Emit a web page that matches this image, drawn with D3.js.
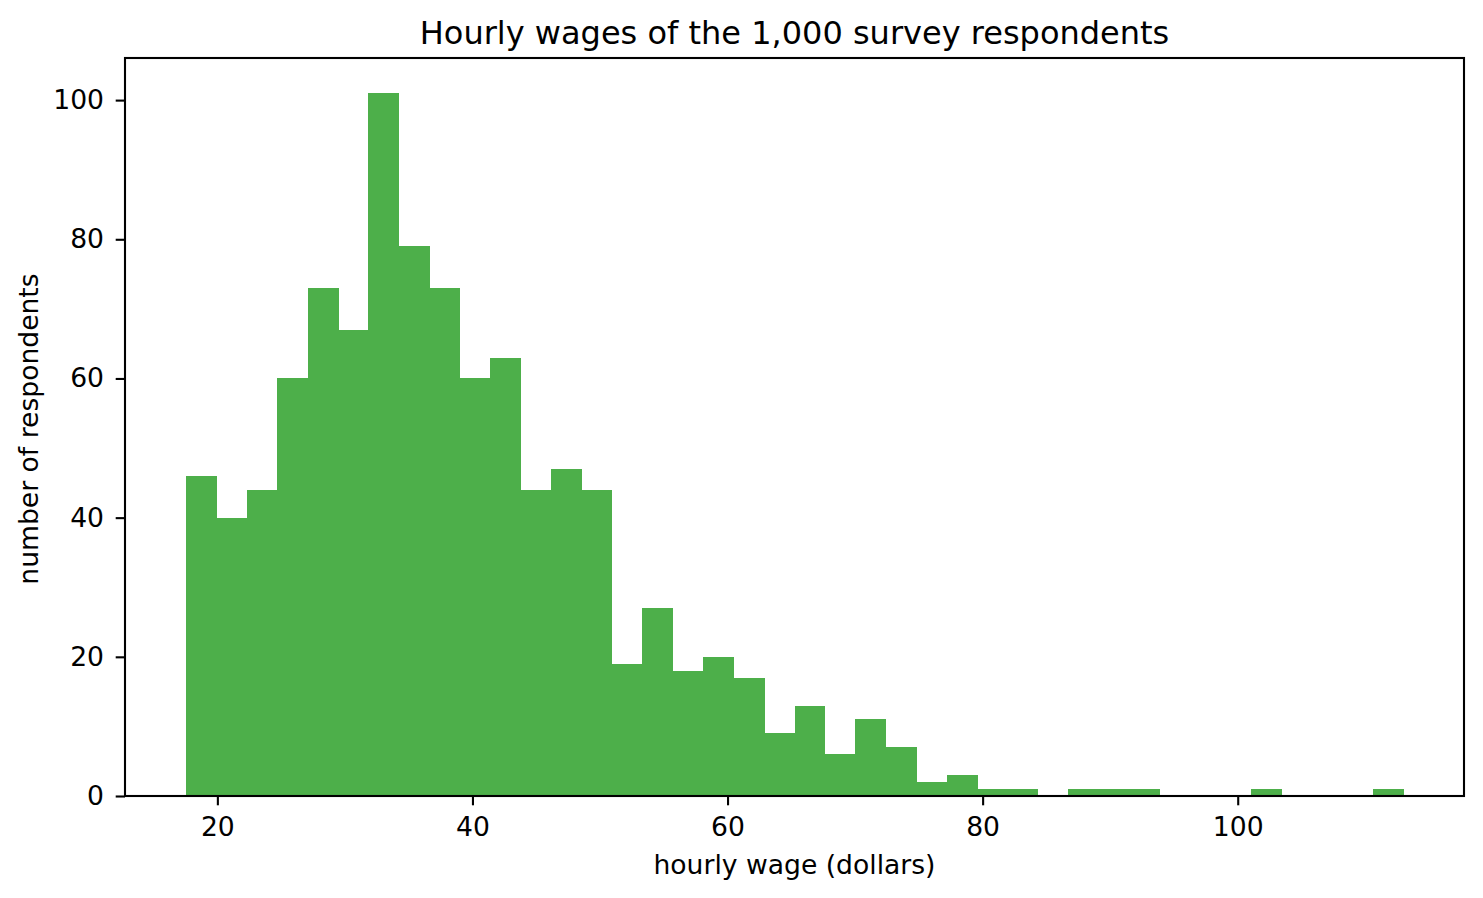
<!DOCTYPE html>
<html>
<head>
<meta charset="utf-8">
<script src="https://cdn.jsdelivr.net/npm/d3@7"></script>
<style>
    body { margin: 0; background: #fff; }
    text { font-family: "DejaVu Sans", sans-serif; fill: #000; }
</style>
</head>
<body>
<div id="hist-area"></div>
<script>
// bin counts (40 equal bins)
const wageMin = 17.53;
const wageMax = 112.97;
const binCounts = [46, 40, 44, 60, 73, 67, 101, 79, 73, 60,
                   63, 44, 47, 44, 19, 27, 18, 20, 17, 9,
                   13, 6, 11, 7, 2, 3, 1, 1, 0, 1,
                   1, 1, 0, 0, 0, 1, 0, 0, 0, 1];
const xTicks = [20, 40, 60, 80, 100];
const yTicks = [0, 20, 40, 60, 80, 100];

const chartTitle = "Hourly wages of the 1,000 survey respondents";
const xLabel = "hourly wage (dollars)";
const yLabel = "number of respondents";

class HistogramVis {

    constructor(parentElement){
        this.parentElement = parentElement;
        this.initVis();
    }

    initVis(){
        let vis = this;

        vis.margin = { top: 58, right: 19, bottom: 102, left: 125 };
        vis.width = 1483 - vis.margin.left - vis.margin.right;
        vis.height = 898 - vis.margin.top - vis.margin.bottom;

        vis.svg = d3.select("#" + vis.parentElement).append("svg")
            .attr("width", 1483)
            .attr("height", 898)
            .append("g")
            .attr("transform", "translate(" + vis.margin.left + "," + vis.margin.top + ")");

        vis.wrangleData();
    }

    wrangleData(){
        let vis = this;

        // build bins from the range and the counts
        let step = (wageMax - wageMin) / binCounts.length;
        vis.bins = binCounts.map((c, i) => ({
            x0: wageMin + i * step,
            x1: wageMin + (i + 1) * step,
            count: c
        }));

        vis.updateVis();
    }

    updateVis(){
        let vis = this;

        // matplotlib style 5% margin on x
        let pad = (wageMax - wageMin) * 0.05;
        vis.x = d3.scaleLinear()
            .domain([wageMin - pad, wageMax + pad])
            .range([0, vis.width]);

        vis.y = d3.scaleLinear()
            .domain([0, d3.max(binCounts) * 1.05])
            .range([vis.height, 0]);

        // bars - crisp edges so no seams show between them
        vis.svg.append("g").attr("class", "bars")
            .attr("shape-rendering", "crispEdges")
            .selectAll("rect")
            .data(vis.bins)
            .enter().append("rect")
            .attr("x", d => vis.x(d.x0))
            .attr("width", d => vis.x(d.x1) - vis.x(d.x0) + 0.5)
            .attr("y", d => vis.y(d.count))
            .attr("height", d => vis.y(0) - vis.y(d.count))
            .attr("fill", "#4daf4a");

        // axes
        let xAxis = d3.axisBottom(vis.x)
            .tickValues(xTicks)
            .tickSize(9.3)
            .tickPadding(11.8);

        let yAxis = d3.axisLeft(vis.y)
            .tickValues(yTicks)
            .tickSize(9.3)
            .tickPadding(11.7);

        let gx = vis.svg.append("g")
            .attr("class", "x-axis")
            .attr("transform", "translate(0," + vis.height + ")")
            .call(xAxis);

        let gy = vis.svg.append("g")
            .attr("class", "y-axis")
            .call(yAxis);

        [gx, gy].forEach(g => {
            g.select(".domain").remove();
            g.selectAll(".tick line").attr("stroke", "#000").attr("stroke-width", 2.1);
            g.selectAll(".tick text")
                .attr("font-family", "DejaVu Sans")
                .attr("font-size", 26.6)
                .attr("fill", "#000");
        });

        // frame
        vis.svg.append("rect")
            .attr("x", 0)
            .attr("y", 0)
            .attr("width", vis.width)
            .attr("height", vis.height)
            .attr("fill", "none")
            .attr("stroke", "#000")
            .attr("stroke-width", 2.1);

        // title
        vis.svg.append("text")
            .attr("x", vis.width / 2)
            .attr("y", -13.8)
            .attr("text-anchor", "middle")
            .attr("font-size", 32)
            .text(chartTitle);

        // axis labels
        vis.svg.append("text")
            .attr("x", vis.width / 2)
            .attr("y", vis.height + 78)
            .attr("text-anchor", "middle")
            .attr("font-size", 26.6)
            .text(xLabel);

        vis.svg.append("text")
            .attr("transform", "translate(" + (38 - vis.margin.left) + "," + (vis.height / 2 + 2) + ") rotate(-90)")
            .attr("text-anchor", "middle")
            .attr("font-size", 26.6)
            .text(yLabel);
    }
}

let histVis = new HistogramVis("hist-area");
</script>
</body>
</html>
